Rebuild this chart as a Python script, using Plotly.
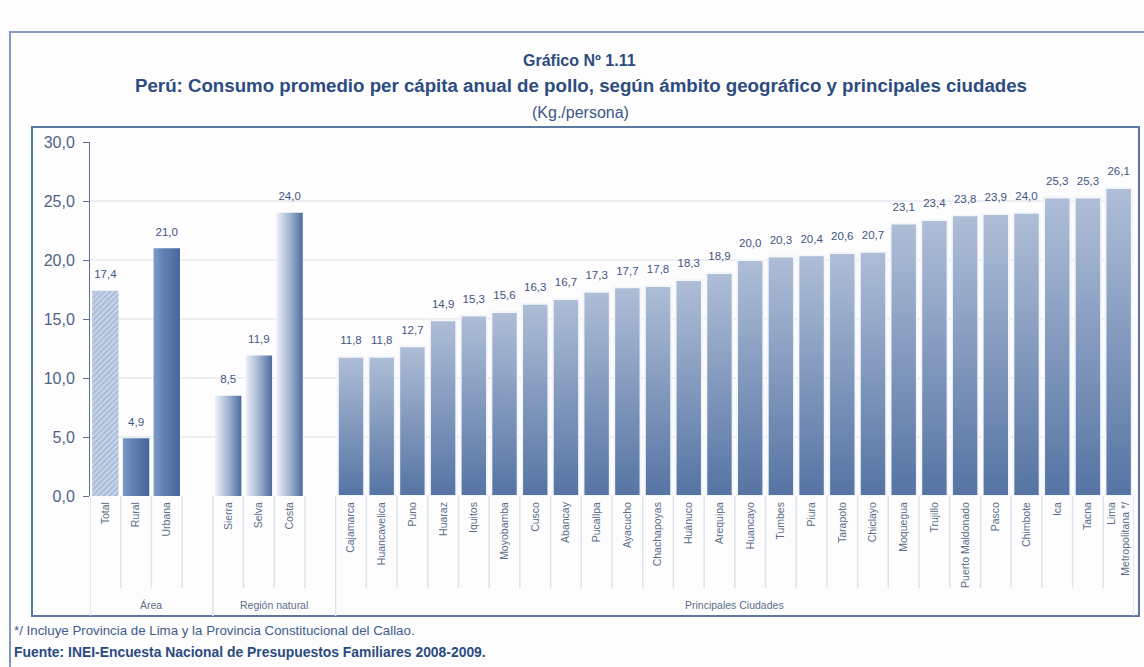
import plotly.graph_objects as go

# ---- data -------------------------------------------------------------
area_labels = ["Total", "Rural", "Urbana"]
area_values = [17.4, 4.9, 21.0]

region_labels = ["Sierra", "Selva", "Costa"]
region_values = [8.5, 11.9, 24.0]

city_labels = [
    "Cajamarca", "Huancavelica", "Puno", "Huaraz", "Iquitos", "Moyobamba",
    "Cusco", "Abancay", "Pucallpa", "Ayacucho", "Chachapoyas", "Huánuco",
    "Arequipa", "Huancayo", "Tumbes", "Piura", "Tarapoto", "Chiclayo",
    "Moquegua", "Trujillo", "Puerto Maldonado", "Pasco", "Chimbote", "Ica",
    "Tacna", "Lima<br>Metropolitana */",
]
city_values = [
    11.8, 11.8, 12.7, 14.9, 15.3, 15.6, 16.3, 16.7, 17.3, 17.7, 17.8, 18.3,
    18.9, 20.0, 20.3, 20.4, 20.6, 20.7, 23.1, 23.4, 23.8, 23.9, 24.0, 25.3,
    25.3, 26.1,
]

group_names = ["Área", "Región natural", "Principales Ciudades"]
y_ticks = [0, 5, 10, 15, 20, 25, 30]

# ---- layout helpers ---------------------------------------------------
W, H = 1144, 667
PL, PR, PT, PB = 90, 1134, 142, 496   # plot area in pixels


def fx(px):
    return (px - PL) / (PR - PL)


def fy(py):
    return (PB - py) / (PB - PT)


# slot positions: three area bars, a gap, three region bars, a gap, cities
area_x = [0, 1, 2]
region_x = [4, 5, 6]
city_x = list(range(8, 8 + len(city_labels)))
n_slots = city_x[-1] + 1
HALF = 0.43

BLUE_TXT = "#3f5680"
AXIS_TXT = "#4e6386"
CAT_TXT = "#5a6d8a"
FONT = "Liberation Sans, Arial, sans-serif"


def fmt(v):
    return f"{v:.1f}".replace(".", ",")


def bar_trace(xc, v, **fill):
    return go.Scatter(
        x=[xc - HALF, xc - HALF, xc + HALF, xc + HALF, xc - HALF],
        y=[0, v, v, 0, 0],
        mode="lines",
        fill="toself",
        hoverinfo="skip",
        showlegend=False,
        **fill,
    )


fig = go.Figure()

# Área: hatched total, gradient rural / urbana
for i, (xc, v) in enumerate(zip(area_x, area_values)):
    if i == 0:
        fig.add_trace(bar_trace(
            xc, v,
            line=dict(width=0, color="rgba(0,0,0,0)"),
            fillcolor="#c3d0e5",
            fillpattern=dict(shape="/", fgcolor="#839cc4", bgcolor="#c8d4e8",
                             size=4, solidity=0.45),
        ))
    else:
        fig.add_trace(bar_trace(
            xc, v,
            line=dict(width=0, color="rgba(0,0,0,0)"),
            fillgradient=dict(type="horizontal",
                              colorscale=[[0, "#7d9ac6"], [0.35, "#6183b4"],
                                          [1, "#45669a"]]),
        ))

# Región natural: light-to-dark horizontal gradient
for xc, v in zip(region_x, region_values):
    fig.add_trace(bar_trace(
        xc, v,
        line=dict(width=0, color="rgba(0,0,0,0)"),
        fillgradient=dict(type="horizontal",
                          colorscale=[[0, "#eef1f7"], [0.5, "#a3b5d1"],
                                      [1, "#4b6c9e"]]),
    ))

# Principales ciudades: vertical gradient, white outline
for xc, v in zip(city_x, city_values):
    fig.add_trace(bar_trace(
        xc, v,
        line=dict(width=2, color="#f4f6fa"),
        fillgradient=dict(type="vertical",
                          colorscale=[[0, "#5574a3"], [1, "#afbed7"]]),
    ))

# value labels (an invisible marker lifts the text off the bar top)
all_x = area_x + region_x + city_x
all_v = area_values + region_values + city_values
fig.add_trace(go.Scatter(
    x=all_x, y=all_v, mode="markers+text",
    marker=dict(size=14, color="rgba(0,0,0,0)"),
    text=[fmt(v) for v in all_v],
    textposition="top center",
    textfont=dict(family=FONT, size=11.5, color=BLUE_TXT),
    hoverinfo="skip", showlegend=False,
))

# ---- shapes: frames, grid, separators ---------------------------------
shapes = []
# outer frame
shapes.append(dict(type="rect", xref="paper", yref="paper",
                   x0=fx(10), x1=fx(1160), y0=fy(690), y1=fy(32),
                   line=dict(color="#7f9abd", width=2), layer="below"))
# inner frame
shapes.append(dict(type="rect", xref="paper", yref="paper",
                   x0=fx(32), x1=fx(1139), y0=fy(616), y1=fy(127),
                   line=dict(color="#5b78a2", width=2), layer="below"))
# horizontal grid
for t in y_ticks[1:-1]:
    shapes.append(dict(type="line", xref="paper", yref="y",
                       x0=0, x1=1, y0=t, y1=t,
                       line=dict(color="#e6e9ef", width=1.5), layer="below"))
# category separators below the axis
group_edges = {-0.5, 3.5, 7.5, n_slots - 0.5}
for k in range(n_slots + 1):
    xb = k - 0.5
    long_line = xb in group_edges
    shapes.append(dict(type="line", xref="x", yref="paper",
                       x0=xb, x1=xb, y0=0,
                       y1=fy(616) if long_line else fy(588),
                       line=dict(color="#dde3ec", width=1.5), layer="below"))

# ---- annotations --------------------------------------------------------
ann = []
ann.append(dict(text="<b>Gráfico Nº 1.11</b>", x=fx(579), y=fy(60),
                font=dict(family=FONT, size=16, color="#2c4c7f")))
ann.append(dict(text="<b>Perú: Consumo promedio per cápita anual de pollo, "
                     "según ámbito geográfico y principales ciudades</b>",
                x=fx(581), y=fy(86),
                font=dict(family=FONT, size=18.7, color="#2c4c7f")))
ann.append(dict(text="(Kg./persona)", x=fx(580), y=fy(112),
                font=dict(family=FONT, size=16, color="#3a5787")))
group_centers = [(-0.5 + 3.5) / 2, (3.5 + 7.5) / 2, (7.5 + n_slots - 0.5) / 2]
for name, gx in zip(group_names, group_centers):
    ann.append(dict(text=name, x=gx, xref="x", y=fy(605),
                    font=dict(family=FONT, size=10.5, color=CAT_TXT)))
ann.append(dict(text="*/ Incluye Provincia de Lima y la Provincia Constitucional del Callao.",
                x=fx(12), y=fy(630), xanchor="left",
                font=dict(family=FONT, size=13.3, color="#3e5c8c")))
ann.append(dict(text="<b>Fuente: INEI-Encuesta Nacional de Presupuestos Familiares 2008-2009.</b>",
                x=fx(12), y=fy(652), xanchor="left",
                font=dict(family=FONT, size=13.9, color="#2b4b80")))
for a in ann:
    a.setdefault("xref", "paper")
    a.setdefault("yref", "paper")
    a.setdefault("xanchor", "center")
    a["yanchor"] = "middle"
    a["showarrow"] = False

fig.update_layout(
    width=W, height=H,
    margin=dict(l=PL, r=W - PR, t=PT, b=H - PB, pad=0),
    paper_bgcolor="#fdfdfe",
    plot_bgcolor="rgba(0,0,0,0)",
    separators=",.",
    showlegend=False,
    shapes=shapes,
    annotations=ann,
    font=dict(family=FONT),
    xaxis=dict(
        range=[-0.5, n_slots - 0.5],
        tickmode="array",
        tickvals=all_x,
        ticktext=area_labels + region_labels + city_labels,
        tickangle=-90,
        tickfont=dict(family=FONT, size=10.5, color=CAT_TXT),
        ticklabelstandoff=3,
        showgrid=False, zeroline=False, showline=False, ticks="",
        fixedrange=True,
    ),
    yaxis=dict(
        range=[0, 30],
        tickmode="array",
        tickvals=y_ticks,
        tickformat=".1f",
        tickfont=dict(family=FONT, size=16, color=AXIS_TXT),
        ticklabelstandoff=5,
        showgrid=False, zeroline=False,
        showline=True, linecolor="#5f7090", linewidth=1,
        ticks="outside", ticklen=6, tickcolor="#5f7090",
        fixedrange=True,
    ),
)

fig.write_html("out.html")
